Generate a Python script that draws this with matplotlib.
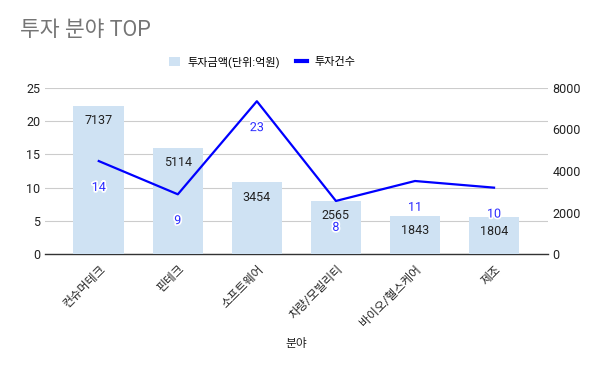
import matplotlib
matplotlib.use("Agg")
import matplotlib.pyplot as plt
import matplotlib.patheffects as pe
from matplotlib.patches import Patch
from matplotlib.lines import Line2D

plt.rcParams['font.family'] = ['Roboto', 'Noto Sans CJK KR', 'DejaVu Sans']

categories = ['컨슈머테크', '핀테크', '소프트웨어', '차량/모빌리티', '바이오/헬스케어', '제조']
amounts = [7137, 5114, 3454, 2565, 1843, 1804]
counts = [14, 9, 23, 8, 11, 10]

fig = plt.figure(figsize=(6, 3.71), dpi=100)
ax = fig.add_axes([0.075, 0.315, 0.838, 0.448])   # grid + left scale
axb = ax.twinx()                                  # bars, right scale
axl = ax.twinx()                                  # line, left scale
ax.set_zorder(0); axb.set_zorder(1); axl.set_zorder(2)
axb.patch.set_visible(False); axl.patch.set_visible(False)

x = list(range(len(categories)))

ax.set_ylim(0, 25)
ax.set_yticks([0, 5, 10, 15, 20, 25])
ax.yaxis.grid(True, color='#cccccc', linewidth=0.8)
ax.set_xlim(-0.68, 5.68)

axb.bar(x, amounts, width=0.64, color='#cfe2f3')
for xi, v in zip(x, amounts):
    axb.annotate(f'{v}', (xi, v), xytext=(0, -6), textcoords='offset points',
                 ha='center', va='top', fontsize=9, color='#222222')
axb.set_ylim(0, 8000)
axb.set_yticks([0, 2000, 4000, 6000, 8000])

axl.plot(x, counts, color='#0000ff', linewidth=1.6)
for xi, v in zip(x, counts):
    axl.annotate(f'{v}', (xi, v), xytext=(0, -19), textcoords='offset points',
                 ha='center', va='center', fontsize=9, color='#2a2aff',
                 path_effects=[pe.withStroke(linewidth=2.5, foreground='white')])
axl.set_ylim(0, 25)
axl.set_yticks([])

for a in (ax, axb, axl):
    for s in a.spines.values():
        s.set_visible(False)
    a.tick_params(axis='both', length=0, labelsize=9, colors='#222222')
ax.spines['bottom'].set_visible(True)
ax.spines['bottom'].set_color('#333333')
ax.spines['bottom'].set_linewidth(1)

ax.set_xticks(x)
ax.set_xticklabels(categories, rotation=45, ha='right', rotation_mode='anchor', fontsize=8.5)
ax.tick_params(axis='x', pad=6)
ax.set_xlabel('분야', fontsize=8.5, labelpad=6, color='#222222')

fig.text(0.033, 0.918, '투자 분야 TOP', fontsize=15.5, color='#757575', ha='left', va='center')

handles = [Patch(facecolor='#cfe2f3', label='투자금액(단위:억원)'),
           Line2D([0], [0], color='#0000ff', linewidth=3, label='투자건수')]
fig.legend(handles=handles, loc='center', bbox_to_anchor=(0.437, 0.833), ncol=2,
           frameon=False, fontsize=8, handlelength=1.0, handleheight=0.9,
           columnspacing=1.5, handletextpad=0.6)

fig.savefig('out.png', dpi=100)
